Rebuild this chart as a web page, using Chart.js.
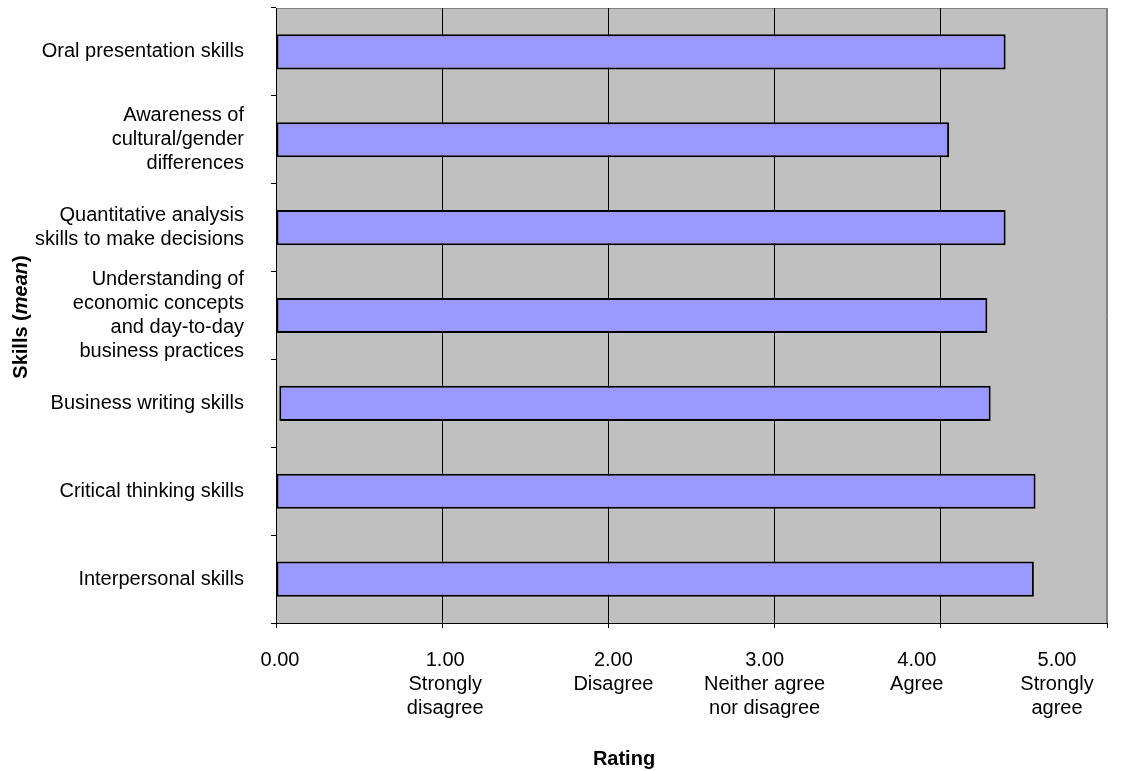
<!DOCTYPE html>
<html>
<head>
<meta charset="utf-8">
<script src="https://cdn.jsdelivr.net/npm/chart.js@4.4.1/dist/chart.umd.min.js"></script>
<style>
  html, body { margin: 0; padding: 0; background: #fff; }
  #wrap { width: 1130px; height: 771px; }
</style>
</head>
<body>
<div id="wrap"><canvas id="skillsChart" width="1130" height="771"></canvas></div>
<script>
// data
const skills = [
    'Oral presentation skills',
    ['Awareness of', 'cultural/gender', 'differences'],
    ['Quantitative analysis', 'skills to make decisions'],
    ['Understanding of', 'economic concepts', 'and day-to-day', 'business practices'],
    'Business writing skills',
    'Critical thinking skills',
    'Interpersonal skills'
];
const means = [4.39, 4.05, 4.39, 4.28, 4.30, 4.57, 4.56];
const barStarts = [0, 0, 0, 0, 0.02, 0, 0];
const ratingTicks = ['0.00', '1.00', '2.00', '3.00', '4.00', '5.00'];
const ratingWords = [[], ['Strongly', 'disagree'], ['Disagree'], ['Neither agree', 'nor disagree'], ['Agree'], ['Strongly', 'agree']];

const FONT = '"Liberation Sans", Arial, sans-serif';
// Excel shoves the wide bottom labels sideways so they fit; px nudge per tick
const labelNudge = [4, 3, 5, -10, -24, -50];

// grey plot area + the two light frame edges, x labels and axis titles
const plotFrame = {
    id: 'plotFrame',
    beforeDraw(chart) {
        const { ctx, chartArea: a } = chart;
        ctx.save();
        ctx.fillStyle = '#c0c0c0';
        ctx.fillRect(a.left, a.top, a.right - a.left, a.bottom - a.top);
        ctx.strokeStyle = '#808080';
        ctx.lineWidth = 1;
        ctx.beginPath();
        ctx.moveTo(a.left, a.top + 0.5);
        ctx.lineTo(a.right - 0.5, a.top + 0.5);
        ctx.lineTo(a.right - 0.5, a.bottom);
        ctx.stroke();
        ctx.restore();
    },
    afterDraw(chart) {
        const { ctx, chartArea: a } = chart;
        const xs = chart.scales.x;
        ctx.save();
        ctx.fillStyle = '#000';
        // x tick labels
        ctx.font = '20px ' + FONT;
        ctx.textAlign = 'center';
        ctx.textBaseline = 'middle';
        ratingTicks.forEach((t, i) => {
            const px = xs.getPixelForValue(i) + labelNudge[i];
            [t].concat(ratingWords[i]).forEach((line, k) => {
                ctx.fillText(line, px, a.bottom + 37 + k * 24);
            });
        });
        // x title
        ctx.font = 'bold 20px ' + FONT;
        ctx.textBaseline = 'alphabetic';
        ctx.fillText('Rating', 624, 765);
        // y title, mixed bold / bold italic
        const parts = [['bold 20px ' + FONT, 'Skills ('], ['italic bold 20px ' + FONT, 'mean'], ['bold 20px ' + FONT, ')']];
        let total = 0;
        parts.forEach(p => { ctx.font = p[0]; total += ctx.measureText(p[1]).width; });
        ctx.translate(27, 317);
        ctx.rotate(-Math.PI / 2);
        ctx.textAlign = 'left';
        let x = -total / 2;
        parts.forEach(p => { ctx.font = p[0]; ctx.fillText(p[1], x, 0); x += ctx.measureText(p[1]).width; });
        ctx.restore();
    }
};

new Chart(document.getElementById('skillsChart'), {
    type: 'bar',
    data: {
        labels: skills,
        datasets: [{
            label: 'Mean rating',
            data: means.map((v, i) => [barStarts[i], v]),
            backgroundColor: '#9999ff',
            borderColor: '#000',
            borderWidth: 2,
            borderSkipped: false,
            categoryPercentage: 1,
            barPercentage: 0.4
        }]
    },
    options: {
        indexAxis: 'y',
        responsive: false,
        animation: false,
        layout: { padding: { top: 8, right: 23, left: 0, bottom: 0 } },
        plugins: { legend: { display: false }, tooltip: { enabled: false } },
        scales: {
            x: {
                min: 0,
                max: 5,
                afterFit: s => { s.height = 148; s.paddingLeft = 0; s.paddingRight = 0; },
                ticks: {
                    stepSize: 1,
                    display: false
                },
                grid: {
                    color: c => (c.tick && c.tick.value === 5 ? '#808080' : '#000'),
                    tickColor: '#000',
                    tickLength: 5,
                    lineWidth: 1
                },
                border: { color: '#000', width: 1 }
            },
            y: {
                afterFit: s => { s.width = 276; s.paddingTop = 0; s.paddingBottom = 0; },
                ticks: {
                    color: '#000',
                    padding: 27,
                    autoSkip: false,
                    font: { family: FONT, size: 20, lineHeight: 1.2 }
                },
                grid: {
                    offset: true,
                    drawOnChartArea: false,
                    tickLength: 5,
                    color: '#000'
                },
                border: { color: '#000', width: 1 }
            }
        }
    },
    plugins: [plotFrame]
});
</script>
</body>
</html>
